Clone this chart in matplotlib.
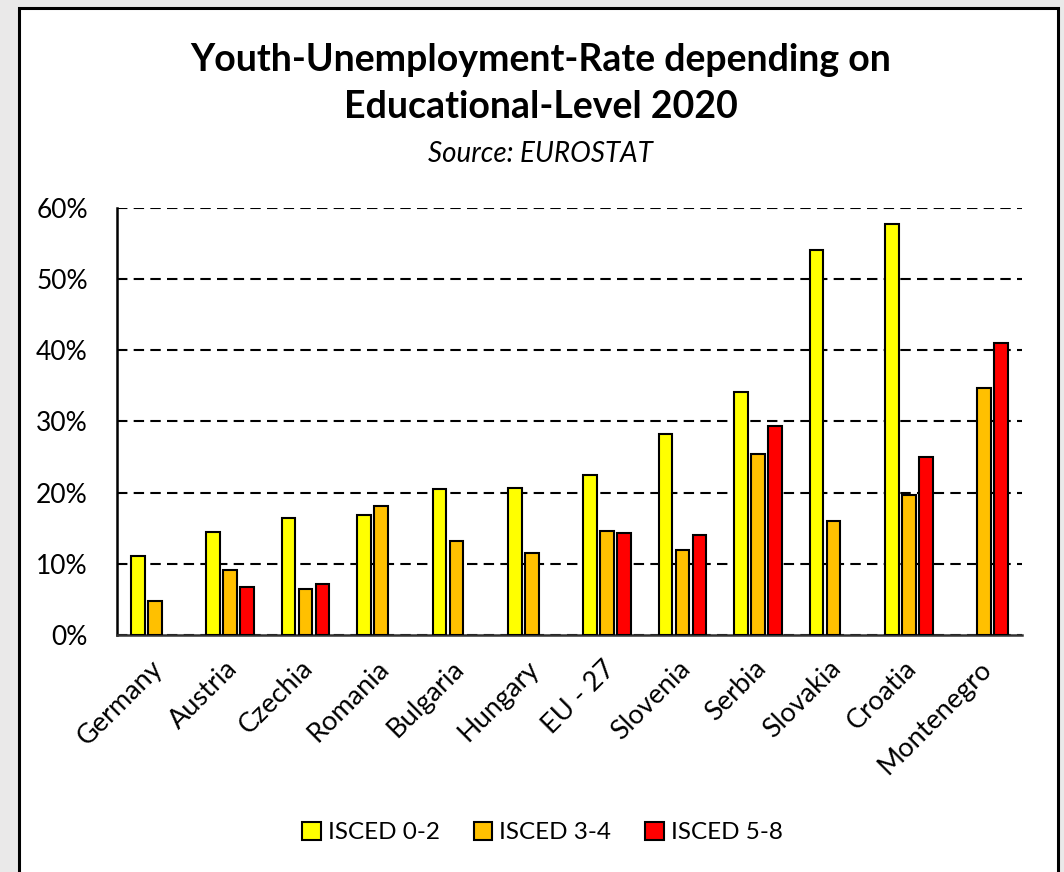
import numpy as np
import matplotlib.pyplot as plt
from matplotlib.patches import Rectangle
from matplotlib.ticker import PercentFormatter
from matplotlib.transforms import ScaledTranslation


# ============================================================
# Data (in %)
# ============================================================

COUNTRIES = [
    "Germany", "Austria", "Czechia", "Romania", "Bulgaria", "Hungary",
    "EU - 27", "Slovenia", "Serbia", "Slovakia", "Croatia", "Montenegro",
]

ISCED_0_2 = [11.1, 14.5, 16.4, 16.9, 20.5, 20.6, 22.5, 28.2, 34.2, 54.1, 57.7, np.nan]
ISCED_3_4 = [4.8, 9.2, 6.4, 18.1, 13.2, 11.5, 14.6, 12.0, 25.5, 16.0, 19.7, 34.7]
ISCED_5_8 = [np.nan, 6.7, 7.2, np.nan, np.nan, np.nan, 14.4, 14.0, 29.3, np.nan, 25.0, 41.0]

SERIES_LABELS = ["ISCED 0-2", "ISCED 3-4", "ISCED 5-8"]
SERIES_COLORS = ["#FFFF00", "#FFC000", "#FF0000"]

FONT = ["Lato", "DejaVu Sans"]


def main() -> None:
    plt.rcParams["font.family"] = FONT

    fig = plt.figure(figsize=(10.64, 8.72), dpi=100)
    fig.patch.set_facecolor("#EAE9E9")

    # white panel with black frame, kept behind the axes
    fig.patches.append(
        Rectangle(
            (19 / 1064, -0.05),
            (1058 - 19) / 1064,
            1.05 - 8 / 872,
            transform=fig.transFigure,
            facecolor="white",
            edgecolor="black",
            linewidth=2.2,
            zorder=-10,
        )
    )

    ax = fig.add_axes([0.110, 0.2718, 0.8505, 0.4897])
    ax.set_facecolor("none")

    x = np.arange(len(COUNTRIES))
    width = 0.18
    step = 0.225

    series = [ISCED_0_2, ISCED_3_4, ISCED_5_8]
    for i, (values, label, color) in enumerate(zip(series, SERIES_LABELS, SERIES_COLORS)):
        ax.bar(
            x + (i - 1) * step,
            values,
            width=width,
            color=color,
            edgecolor="black",
            linewidth=1.5,
            label=label,
            zorder=3,
        )

    ax.set_xlim(-0.5, len(COUNTRIES) - 0.5)
    ax.set_ylim(0, 60)
    ax.set_yticks(np.arange(0, 61, 10))
    ax.yaxis.set_major_formatter(PercentFormatter(decimals=0))

    ax.grid(axis="y", color="black", linestyle=(0, (5, 3)), linewidth=1.5, zorder=1)
    ax.set_axisbelow(True)

    for side in ["top", "right"]:
        ax.spines[side].set_visible(False)
    ax.spines["left"].set_linewidth(1.8)
    ax.spines["bottom"].set_linewidth(1.8)
    ax.spines["bottom"].set_color("#333333")

    ax.tick_params(axis="y", length=0, pad=21, labelsize=19)
    ax.tick_params(axis="x", length=0, pad=15, labelsize=19.5)

    ax.set_xticks(x)
    ax.set_xticklabels(COUNTRIES, rotation=45, ha="right", rotation_mode="anchor")
    shift = ScaledTranslation(-5 / 100, 0, fig.dpi_scale_trans)
    for lbl in ax.get_xticklabels():
        lbl.set_transform(lbl.get_transform() + shift)

    fig.text(0.508, 0.919, "Youth-Unemployment-Rate depending on",
             ha="center", va="baseline", fontsize=27, fontweight="bold")
    fig.text(0.508, 0.865, "Educational-Level 2020",
             ha="center", va="baseline", fontsize=27, fontweight="bold")
    fig.text(0.508, 0.814, "Source: EUROSTAT",
             ha="center", va="baseline", fontsize=20, style="italic")

    ax.legend(
        loc="center",
        bbox_to_anchor=(0.51, 0.045),
        bbox_transform=fig.transFigure,
        ncol=3,
        frameon=False,
        fontsize=17.5,
        handlelength=0.75,
        handleheight=0.75,
        handletextpad=0.3,
        columnspacing=1.4,
    )

    fig.savefig("out.png", dpi=100, facecolor=fig.get_facecolor())
    plt.close(fig)


if __name__ == "__main__":
    main()
